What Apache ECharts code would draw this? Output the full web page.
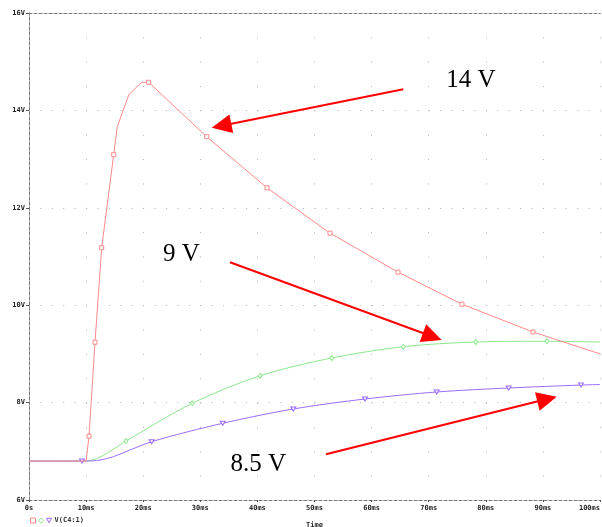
<!DOCTYPE html>
<html>
<head>
<meta charset="utf-8">
<script src="https://cdn.jsdelivr.net/npm/echarts@6/dist/echarts.min.js"></script>
<style>
  html, body { margin: 0; padding: 0; background: #fff; }
  #chart { width: 602px; height: 527px; }
</style>
</head>
<body>
<div id="chart"></div>
<script>
// Transient response of V(C4:1) for three runs (time in ms, voltage in V)
const timesRed   = [0, 10, 10.51, 11.56, 12.73, 14.83, 15.46, 17.51, 19.74, 20.96, 31.12, 41.68, 52.71, 64.62, 75.83, 88.27, 100];
const voltsRed   = [6.8, 6.8, 7.31, 9.24, 11.18, 13.09, 13.665, 14.33, 14.577, 14.577, 13.46, 12.41, 11.48, 10.68, 10.02, 9.45, 9.0];
const marksRed   = [2, 3, 4, 5, 9, 10, 11, 12, 13, 14, 15];

const timesGreen = [0, 10, 12.4, 14.77, 16.99, 28.6, 40.5, 53.01, 65.55, 78.23, 90.72, 100];
const voltsGreen = [6.8, 6.8, 6.88, 7.04, 7.211, 7.986, 8.552, 8.916, 9.148, 9.244, 9.259, 9.244];
const marksGreen = [4, 5, 6, 7, 8, 9, 10];

const timesPurple = [0, 9.28, 10, 12.4, 14.77, 21.49, 33.92, 46.29, 58.84, 71.4, 84.0, 96.67, 100];
const voltsPurple = [6.8, 6.8, 6.8, 6.82, 6.89, 7.197, 7.575, 7.869, 8.074, 8.218, 8.30, 8.36, 8.372];
const marksPurple = [1, 5, 6, 7, 8, 9, 10, 11];

// Axis ticks
const timeTicks = [0, 10, 20, 30, 40, 50, 60, 70, 80, 90, 100];
const voltTicks = [6, 8, 10, 12, 14, 16];

// Annotations: text labels and arrows (tail -> head) in data units
const noteTexts  = ['14 V', '9 V', '8.5 V'];
const notePos    = [[77.4, 14.61], [26.7, 11.045], [40.16, 6.735]];
const arrowTails = [[65.55, 14.433], [35.2, 10.881], [52.01, 6.938]];
const arrowHeads = [[33.71, 13.686], [70.63, 9.357], [90.72, 8.072]];

const RED = '#ff8a8a', GREEN = '#8ee88e', PURPLE = '#9a6cff';
const tickFont = { fontFamily: 'DejaVu Sans Mono', fontSize: 7, fontWeight: 'bold', color: '#222' };

function buildData(times, volts, marks) {
  return times.map((t, i) => ({
    value: [t, volts[i]],
    symbol: marks.indexOf(i) >= 0 ? undefined : 'none'
  }));
}

const chart = echarts.init(document.getElementById('chart'), null, { renderer: 'canvas' });

const dashedBorder = { show: true, lineStyle: { color: '#7a7a7a', width: 1, type: [3, 2] } };

chart.setOption({
  animation: false,
  backgroundColor: '#fff',
  grid: { left: 29, right: 2, top: 13, bottom: 27, containLabel: false, outerBoundsMode: 'none' },
  legend: {
    left: 25, top: 512,
    itemWidth: 5, itemHeight: 5, itemGap: 2,
    selectedMode: false,
    textStyle: { fontFamily: 'DejaVu Sans Mono', fontSize: 7, fontWeight: 'bold', color: '#333', padding: [0, 0, 0, -2] },
    formatter: name => (name === 'V(C4:1)' ? name : ''),
    data: [
      { name: 'V(C4:1)#1', icon: 'rect', itemStyle: { color: '#fff', borderColor: RED, borderWidth: 1 } },
      { name: 'V(C4:1)#2', icon: 'diamond', itemStyle: { color: '#fff', borderColor: GREEN, borderWidth: 1 } },
      { name: 'V(C4:1)', icon: 'path://M0,0 L10,0 L5,9 Z', itemStyle: { color: '#fff', borderColor: PURPLE, borderWidth: 1 } }
    ]
  },
  xAxis: [{
    type: 'value', min: timeTicks[0], max: timeTicks[timeTicks.length - 1], interval: 10,
    position: 'bottom',
    name: 'Time', nameLocation: 'middle', nameGap: 22,
    nameTextStyle: tickFont,
    axisLine: dashedBorder,
    axisTick: { show: true, length: 2, lineStyle: { color: '#555' } },
    axisLabel: Object.assign({ margin: 5, alignMaxLabel: 'right', formatter: v => (v === 0 ? '0s' : v + 'ms') }, tickFont),
    splitLine: { show: true, lineStyle: { color: '#b4b4b4', width: 1, type: [1, 23.35] } }
  }, {
    type: 'value', min: 0, max: 100, position: 'top',
    axisLine: dashedBorder, axisTick: { show: false }, axisLabel: { show: false }, splitLine: { show: false }
  }],
  yAxis: [{
    type: 'value', min: voltTicks[0], max: voltTicks[voltTicks.length - 1], interval: 2,
    position: 'left',
    axisLine: dashedBorder,
    axisTick: { show: true, length: 3, lineStyle: { color: '#555' } },
    axisLabel: Object.assign({ margin: 4, formatter: v => v + 'V' }, tickFont),
    splitLine: { show: true, lineStyle: { color: '#b4b4b4', width: 1, type: [1, 10.42] } }
  }, {
    type: 'value', min: 6, max: 16, position: 'right',
    axisLine: dashedBorder, axisTick: { show: false }, axisLabel: { show: false }, splitLine: { show: false }
  }],
  series: [
    {
      name: 'V(C4:1)#1', type: 'line', xAxisIndex: 0, yAxisIndex: 0,
      data: buildData(timesRed, voltsRed, marksRed),
      symbol: 'rect', symbolSize: 4, showAllSymbol: true,
      lineStyle: { color: RED, width: 1 },
      itemStyle: { color: '#fff', borderColor: RED, borderWidth: 1 },
      emphasis: { disabled: true }, z: 3,
      markLine: {
        silent: true, animation: false,
        symbol: ['none', 'triangle'], symbolSize: [19, 20],
        label: { show: false },
        lineStyle: { color: '#ff0000', width: 2, type: 'solid' },
        data: arrowTails.map((tail, i) => [{ coord: tail }, { coord: arrowHeads[i] }])
      },
      markPoint: {
        silent: true, animation: false,
        symbol: 'rect', symbolSize: 1,
        itemStyle: { color: 'rgba(0,0,0,0)' },
        label: { show: true, position: 'inside', formatter: '{b}', fontFamily: 'Liberation Serif', fontSize: 25, color: '#000' },
        data: noteTexts.map((txt, i) => ({ name: txt, coord: notePos[i] }))
      }
    },
    {
      name: 'V(C4:1)#2', type: 'line', xAxisIndex: 0, yAxisIndex: 0,
      data: buildData(timesGreen, voltsGreen, marksGreen),
      smooth: 0.3,
      symbol: 'diamond', symbolSize: [4, 5], showAllSymbol: true,
      lineStyle: { color: GREEN, width: 1 },
      itemStyle: { color: '#fff', borderColor: GREEN, borderWidth: 1 },
      emphasis: { disabled: true }, z: 2
    },
    {
      name: 'V(C4:1)', type: 'line', xAxisIndex: 0, yAxisIndex: 0,
      data: buildData(timesPurple, voltsPurple, marksPurple),
      smooth: 0.3,
      symbol: 'triangle', symbolRotate: 180, symbolSize: [5, 4], showAllSymbol: true,
      lineStyle: { color: PURPLE, width: 1 },
      itemStyle: { color: '#fff', borderColor: PURPLE, borderWidth: 1 },
      emphasis: { disabled: true }, z: 2
    }
  ]
});
</script>
</body>
</html>
